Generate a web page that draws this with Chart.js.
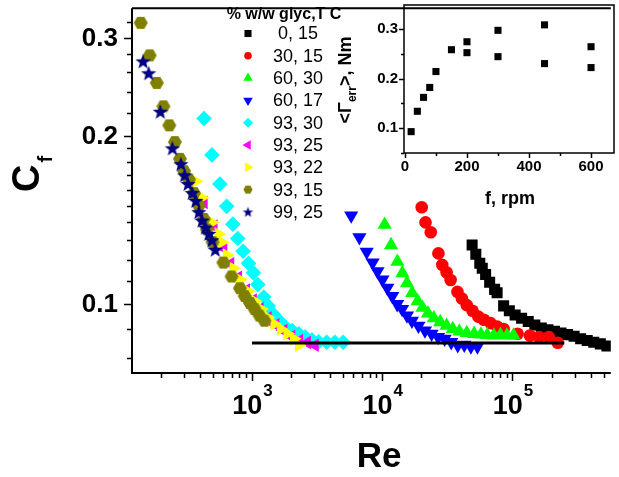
<!DOCTYPE html>
<html>
<head>
<meta charset="utf-8">
<script src="https://cdn.jsdelivr.net/npm/chart.js@4.4.0/dist/chart.umd.min.js"></script>
<style>
  html, body { margin: 0; padding: 0; background: #fff; }
  #wrap { position: relative; width: 619px; height: 477px; }
  #wrap canvas { position: absolute; left: 0; top: 0; }
</style>
</head>
<body>
<div id="wrap">
  <canvas id="mainChart" width="619" height="477"></canvas>
  <canvas id="insetChart" width="619" height="477"></canvas>
</div>
<script>
// dữ liệu chính: Re và C_f cho từng mẫu (% w/w glyc, T C)
const seriesLabels = ["0, 15", "30, 15", "60, 30", "60, 17", "93, 30", "93, 25", "93, 22", "93, 15", "99, 25"];

const re_0_15 = [49000, 52300, 56100, 58600, 62200, 66800, 72900, 76200, 85500, 94600, 104800, 117500, 132100, 148400, 166400, 187000, 209900, 235700, 264700, 297200, 333600, 374700, 420700, 472300, 530900];
const cf_0_15 = [0.1275, 0.1228, 0.1183, 0.1159, 0.1129, 0.1094, 0.1062, 0.1047, 0.0992, 0.0972, 0.0955, 0.0943, 0.0930, 0.0917, 0.0905, 0.0899, 0.0893, 0.0887, 0.0881, 0.0875, 0.0866, 0.0860, 0.0854, 0.0848, 0.0841];

const re_30_15 = [20100, 21500, 23600, 27000, 28900, 31200, 33500, 37800, 40900, 44600, 49300, 54600, 60400, 67900, 76200, 85500, 109400, 136100, 159900, 190300, 222300];
const cf_30_15 = [0.149, 0.140, 0.1344, 0.1232, 0.1175, 0.1140, 0.1104, 0.1051, 0.1023, 0.0995, 0.0972, 0.0949, 0.0937, 0.0924, 0.0911, 0.0902, 0.0884, 0.0878, 0.0872, 0.0872, 0.0852];

const re_60_30 = [10440, 11690, 13090, 14280, 15490, 16990, 18700, 20390, 22440, 24900, 27870, 31200, 34820, 39090, 44570, 50780, 57330, 64000, 71900, 80750, 90600, 101800];
const cf_60_30 = [0.1387, 0.1275, 0.1191, 0.1136, 0.1090, 0.1047, 0.1012, 0.0985, 0.0962, 0.0943, 0.0928, 0.0914, 0.0902, 0.0893, 0.0887, 0.0884, 0.0882, 0.0880, 0.0878, 0.0880, 0.0878, 0.0878];

const re_60_17 = [5780, 6680, 7600, 8440, 9200, 10040, 10940, 11940, 13030, 14210, 15490, 16900, 18960, 21290, 23930, 26860, 30140, 33870, 38000, 42660, 47950, 53800];
const cf_60_17 = [0.144, 0.1316, 0.124, 0.1186, 0.1144, 0.1106, 0.1069, 0.1033, 0.0999, 0.0979, 0.0953, 0.0933, 0.0914, 0.0896, 0.0884, 0.0872, 0.0866, 0.0854, 0.0843, 0.0845, 0.0839, 0.0839];

const re_93_30 = [429, 493, 567, 640, 713, 778, 855, 941, 1026, 1110, 1232, 1332, 1453, 1618, 1815, 2039, 2291, 2570, 2886, 3243, 3746, 4330, 5010];
const cf_93_30 = [0.215, 0.185, 0.164, 0.1496, 0.139, 0.131, 0.1243, 0.1183, 0.1137, 0.1083, 0.1029, 0.0992, 0.0959, 0.0933, 0.0908, 0.0896, 0.0884, 0.0872, 0.0862, 0.0855, 0.0854, 0.0854, 0.0854];

const re_93_25 = [427, 508, 604, 682, 784, 902, 1017, 1149, 1321, 1517, 1745, 2004, 2303, 2647, 3040];
const cf_93_25 = [0.152, 0.138, 0.126, 0.118, 0.1116, 0.1059, 0.1016, 0.0980, 0.0945, 0.0918, 0.0896, 0.0874, 0.0860, 0.0853, 0.0843];

const re_93_22 = [370, 412, 493, 554, 586, 640, 719, 808, 933, 1048, 1175, 1321, 1483, 1664, 1870, 2100, 2290];
const cf_93_22 = [0.166, 0.155, 0.140, 0.1335, 0.129, 0.1224, 0.1159, 0.1106, 0.1054, 0.1012, 0.0979, 0.0946, 0.0921, 0.0902, 0.0884, 0.0866, 0.0843];

const re_93_15 = [140, 164, 186, 209, 232, 256, 280, 301, 329, 359, 391, 427, 450, 499, 604, 698, 808, 881, 966, 1048, 1143, 1247];
const cf_93_15 = [0.319, 0.279, 0.249, 0.226, 0.209, 0.195, 0.182, 0.173, 0.167, 0.158, 0.150, 0.142, 0.136, 0.129, 0.1186, 0.112, 0.1067, 0.1033, 0.1004, 0.0979, 0.0953, 0.0933];

const re_99_25 = [146, 161, 198, 245, 285, 304, 323, 348, 371, 391, 414, 440, 466, 493, 523];
const cf_99_25 = [0.272, 0.259, 0.221, 0.190, 0.178, 0.170, 0.164, 0.158, 0.153, 0.146, 0.141, 0.137, 0.1335, 0.130, 0.125];

// đường nằm ngang
const re_line = [1000, 250000];
const cf_line = [0.0851, 0.0851];

// vạch chia trục
const xMajorTicks = [1e3, 1e4, 1e5];
const xMinorTicks = [200, 300, 400, 500, 600, 700, 800, 900, 2e3, 3e3, 4e3, 5e3, 6e3, 7e3, 8e3, 9e3, 2e4, 3e4, 4e4, 5e4, 6e4, 7e4, 8e4, 9e4, 2e5, 3e5, 4e5, 5e5];
const xTickExp = ["3", "4", "5"];
const yMajorTicks = [0.1, 0.2, 0.3];
const yMinorTicks = [0.08, 0.09, 0.11, 0.12, 0.13, 0.14, 0.15, 0.16, 0.17, 0.18, 0.19, 0.22, 0.24, 0.26, 0.28, 0.32];
const yTickLabels = ["0.1", "0.2", "0.3"];

// hình nhỏ: <Γerr> theo f
const fRpm = [20, 40, 60, 80, 100, 150, 200, 200, 300, 300, 450, 450, 600, 600];
const gammaErr = [0.093, 0.134, 0.162, 0.182, 0.214, 0.258, 0.274, 0.252, 0.297, 0.244, 0.308, 0.230, 0.264, 0.222];
const insetXTicks = [0, 100, 200, 300, 400, 500, 600];
const insetXLabels = ["0", "", "200", "", "400", "", "600"];
const insetYTicks = [0.05, 0.1, 0.15, 0.2, 0.25, 0.3];
const insetYLabels = ["", "0.1", "", "0.2", "", "0.3"];

Chart.defaults.font.family = "'Liberation Sans', Arial, sans-serif";

function makeStar(r, color) {
  const s = Math.ceil(r * 2) + 2;
  const c = document.createElement("canvas");
  c.width = s; c.height = s;
  const g = c.getContext("2d");
  g.fillStyle = color;
  g.beginPath();
  for (let i = 0; i < 10; i++) {
    const rr = i % 2 ? r * 0.42 : r;
    const a = -Math.PI / 2 + i * Math.PI / 5;
    g.lineTo(s / 2 + rr * Math.cos(a), s / 2 + 0.5 + rr * Math.sin(a));
  }
  g.closePath();
  g.fill();
  return c;
}

function makeHex(r, color) {
  const s = Math.ceil(r * 2) + 2;
  const c = document.createElement("canvas");
  c.width = s; c.height = s;
  const g = c.getContext("2d");
  g.fillStyle = color;
  g.beginPath();
  for (let i = 0; i < 6; i++) {
    const a = i * Math.PI / 3;
    g.lineTo(s / 2 + r * Math.cos(a), s / 2 + r * Math.sin(a));
  }
  g.closePath();
  g.fill();
  return c;
}

const pts = (xs, ys) => xs.map((v, i) => ({ x: v, y: ys[i] }));

// kiểu điểm cho từng chuỗi
const styles = [
  { color: "#000000", style: "rect", rot: 0, r: 7.8, lr: 5 },
  { color: "#ff0000", style: "circle", rot: 0, r: 6.3, lr: 3.8 },
  { color: "#00ff00", style: "triangle", rot: 0, r: 8.2, lr: 5.5 },
  { color: "#0000ff", style: "triangle", rot: 180, r: 8.2, lr: 5.5 },
  { color: "#00ffff", style: "rectRot", rot: 0, r: 7.8, lr: 5 },
  { color: "#ff00ff", style: "triangle", rot: 270, r: 7.8, lr: 5.5 },
  { color: "#ffff00", style: "triangle", rot: 90, r: 7.8, lr: 5.5 },
  { color: "#808000", style: makeHex(7, "#808000"), rot: 0, r: 7, lr: 4.5, small: makeHex(4.6, "#808000") },
  { color: "#000080", style: makeStar(8, "#000080"), rot: 0, r: 8, lr: 5, small: makeStar(5.5, "#000080") }
];

const seriesData = [
  [re_0_15, cf_0_15], [re_30_15, cf_30_15], [re_60_30, cf_60_30], [re_60_17, cf_60_17],
  [re_93_30, cf_93_30], [re_93_25, cf_93_25], [re_93_22, cf_93_22], [re_93_15, cf_93_15], [re_99_25, cf_99_25]
];

const datasets = seriesData.map((d, i) => ({
  label: seriesLabels[i],
  data: pts(d[0], d[1]),
  pointStyle: styles[i].style,
  pointRotation: styles[i].rot,
  pointRadius: styles[i].r,
  backgroundColor: styles[i].color,
  borderWidth: 0,
  pointBorderWidth: 0,
  showLine: false,
  order: 20 - i
}));

datasets.push({
  type: "line",
  label: "fit",
  data: pts(re_line, cf_line),
  borderColor: "#000",
  borderWidth: 3,
  pointRadius: 0,
  order: 0
});

function drawPointSafe(ctx, st, radius, x, y) {
  const sty = st.small || st.style;
  if (Chart.helpers && Chart.helpers.drawPoint) {
    Chart.helpers.drawPoint(ctx, { pointStyle: sty, rotation: st.rot, radius: radius, borderWidth: 0 }, x, y);
  } else {
    ctx.beginPath(); ctx.arc(x, y, radius, 0, 2 * Math.PI); ctx.fill();
  }
}

// vẽ khung, vạch chia, nhãn, chú thích
const mainDecor = {
  id: "mainDecor",
  afterDraw(chart) {
    const { ctx, chartArea: a, scales: { x, y } } = chart;
    ctx.save();
    ctx.strokeStyle = "#000";
    ctx.lineWidth = 2;
    ctx.beginPath();
    ctx.moveTo(a.left, a.top); ctx.lineTo(a.right, a.top);
    ctx.moveTo(a.left, a.top); ctx.lineTo(a.left, a.bottom); ctx.lineTo(a.right, a.bottom);
    ctx.stroke();

    ctx.lineWidth = 1.5;
    ctx.beginPath();
    xMinorTicks.forEach(v => { const p = Math.round(x.getPixelForValue(v)) + 0.5; ctx.moveTo(p, a.bottom); ctx.lineTo(p, a.bottom + 5); });
    xMajorTicks.forEach(v => { const p = Math.round(x.getPixelForValue(v)) + 0.5; ctx.moveTo(p, a.bottom); ctx.lineTo(p, a.bottom + 8); });
    yMinorTicks.forEach(v => { const p = Math.round(y.getPixelForValue(v)) + 0.5; ctx.moveTo(a.left, p); ctx.lineTo(a.left - 5, p); });
    yMajorTicks.forEach(v => { const p = Math.round(y.getPixelForValue(v)) + 0.5; ctx.moveTo(a.left, p); ctx.lineTo(a.left - 8, p); });
    ctx.stroke();

    ctx.fillStyle = "#000";
    ctx.textBaseline = "alphabetic";
    xMajorTicks.forEach((v, i) => {
      const p = x.getPixelForValue(v);
      ctx.font = "bold 27px 'Liberation Sans', Arial, sans-serif";
      const w1 = ctx.measureText("10").width;
      ctx.font = "bold 17px 'Liberation Sans', Arial, sans-serif";
      const w2 = ctx.measureText(xTickExp[i]).width;
      const s = p - (w1 + w2) / 2;
      ctx.font = "bold 27px 'Liberation Sans', Arial, sans-serif";
      ctx.textAlign = "left";
      ctx.fillText("10", s, 414);
      ctx.font = "bold 17px 'Liberation Sans', Arial, sans-serif";
      ctx.fillText(xTickExp[i], s + w1 + 1, 396);
    });

    ctx.font = "bold 26px 'Liberation Sans', Arial, sans-serif";
    ctx.textAlign = "right";
    ctx.textBaseline = "middle";
    yMajorTicks.forEach((v, i) => ctx.fillText(yTickLabels[i], a.left - 14, y.getPixelForValue(v) + 1));

    // tiêu đề trục
    ctx.textBaseline = "alphabetic";
    ctx.textAlign = "center";
    ctx.font = "bold 35px 'Liberation Sans', Arial, sans-serif";
    ctx.fillText("Re", 379, 467);

    ctx.save();
    ctx.translate(39, 174);
    ctx.rotate(-Math.PI / 2);
    ctx.font = "bold 38px 'Liberation Sans', Arial, sans-serif";
    const wc = ctx.measureText("C").width;
    ctx.font = "bold 20px 'Liberation Sans', Arial, sans-serif";
    const wf = ctx.measureText("f").width;
    const st = -(wc + wf + 2) / 2;
    ctx.textAlign = "left";
    ctx.font = "bold 38px 'Liberation Sans', Arial, sans-serif";
    ctx.fillText("C", st, 0);
    ctx.font = "bold 20px 'Liberation Sans', Arial, sans-serif";
    ctx.fillText("f", st + wc + 2, 13);
    ctx.restore();

    // chú thích
    ctx.font = "bold 16px 'Liberation Sans', Arial, sans-serif";
    ctx.textAlign = "center";
    ctx.fillText("% w/w glyc,T C", 284, 19);
    ctx.font = "18px 'Liberation Sans', Arial, sans-serif";
    ctx.textBaseline = "middle";
    seriesLabels.forEach((lab, i) => {
      const yy = 33.5 + i * 22.3;
      ctx.fillStyle = styles[i].color;
      drawPointSafe(ctx, styles[i], styles[i].lr, 248, yy);
      ctx.fillStyle = "#000";
      ctx.fillText(lab, 298, yy + 1);
    });
    ctx.restore();
  }
};

new Chart(document.getElementById("mainChart"), {
  type: "scatter",
  data: { datasets: datasets },
  options: {
    responsive: false,
    animation: false,
    events: [],
    layout: { padding: { left: 132, top: 3, right: 0, bottom: 104 } },
    plugins: { legend: { display: false }, tooltip: { enabled: false } },
    scales: {
      x: { type: "logarithmic", min: 120, max: 568500, display: false },
      y: { type: "logarithmic", min: 0.0752, max: 0.3389, display: false }
    }
  },
  plugins: [mainDecor]
});

// hình nhỏ góc trên phải
const insetDecor = {
  id: "insetDecor",
  afterDraw(chart) {
    const { ctx, chartArea: a, scales: { x, y } } = chart;
    ctx.save();
    ctx.strokeStyle = "#000";
    ctx.lineWidth = 1.5;
    ctx.strokeRect(a.left, a.top, a.right - a.left, a.bottom - a.top);
    ctx.beginPath();
    insetXTicks.forEach((v, i) => {
      const p = Math.round(x.getPixelForValue(v)) + 0.5;
      ctx.moveTo(p, a.bottom); ctx.lineTo(p, a.bottom + (insetXLabels[i] ? 5 : 3));
    });
    insetYTicks.forEach((v, i) => {
      const p = Math.round(y.getPixelForValue(v)) + 0.5;
      ctx.moveTo(a.left, p); ctx.lineTo(a.left - (insetYLabels[i] ? 5 : 3), p);
    });
    ctx.stroke();

    ctx.fillStyle = "#000";
    ctx.font = "bold 15px 'Liberation Sans', Arial, sans-serif";
    ctx.textAlign = "center";
    ctx.textBaseline = "alphabetic";
    insetXTicks.forEach((v, i) => { if (insetXLabels[i]) ctx.fillText(insetXLabels[i], x.getPixelForValue(v), 171); });
    ctx.textAlign = "right";
    ctx.textBaseline = "middle";
    insetYTicks.forEach((v, i) => { if (insetYLabels[i]) ctx.fillText(insetYLabels[i], 398, y.getPixelForValue(v)); });

    ctx.textAlign = "center";
    ctx.textBaseline = "alphabetic";
    ctx.font = "bold 18px 'Liberation Sans', Arial, sans-serif";
    ctx.fillText("f, rpm", 510, 204);

    ctx.save();
    ctx.translate(351, 80);
    ctx.rotate(-Math.PI / 2);
    ctx.textAlign = "left";
    const big = "bold 18px 'Liberation Sans', Arial, sans-serif";
    const sub = "bold 12px 'Liberation Sans', Arial, sans-serif";
    ctx.font = big; const w1 = ctx.measureText("<Γ").width; const w3 = ctx.measureText(">, Nm").width;
    ctx.font = sub; const w2 = ctx.measureText("err").width;
    let s = -(w1 + w2 + w3) / 2;
    ctx.font = big; ctx.fillText("<Γ", s, 0);
    ctx.font = sub; ctx.fillText("err", s + w1, 5);
    ctx.font = big; ctx.fillText(">, Nm", s + w1 + w2, 0);
    ctx.restore();
    ctx.restore();
  }
};

new Chart(document.getElementById("insetChart"), {
  type: "scatter",
  data: {
    datasets: [{
      label: "<Γerr>",
      data: pts(fRpm, gammaErr),
      pointStyle: "rect",
      pointRadius: 5,
      backgroundColor: "#000",
      borderWidth: 0,
      pointBorderWidth: 0
    }]
  },
  options: {
    responsive: false,
    animation: false,
    events: [],
    layout: { padding: { left: 404, top: 3, right: 1, bottom: 324 } },
    plugins: { legend: { display: false }, tooltip: { enabled: false } },
    scales: {
      x: { type: "linear", min: -3, max: 674, display: false },
      y: { type: "linear", min: 0.05, max: 0.348, display: false }
    }
  },
  plugins: [insetDecor]
});
</script>
</body>
</html>
